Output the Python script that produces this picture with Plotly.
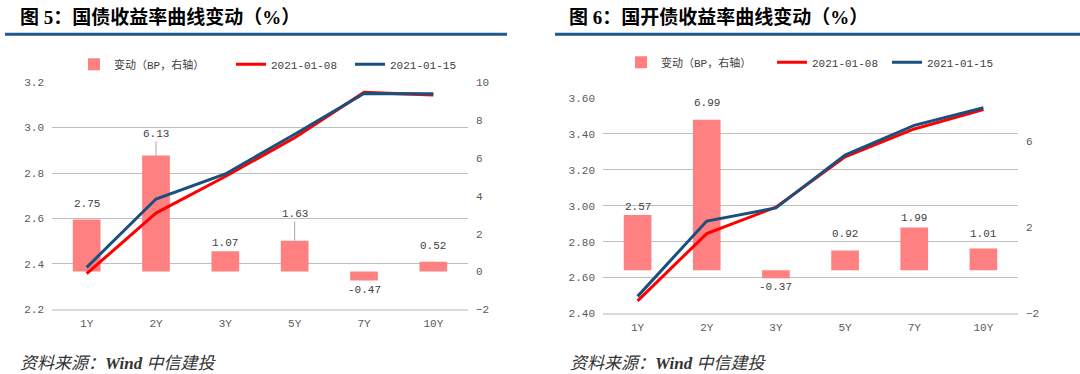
import plotly.graph_objects as go

# ---------------- data ----------------
tenors = ["1Y", "2Y", "3Y", "5Y", "7Y", "10Y"]

# Figure 5: treasury yield curve (%), change in bp
gov_0108 = [2.357, 2.624, 2.785, 2.955, 3.155, 3.144]
gov_0115 = [2.385, 2.686, 2.796, 2.971, 3.150, 3.149]
gov_chg = [2.75, 6.13, 1.07, 1.63, -0.47, 0.52]

# Figure 6: CDB yield curve (%), change in bp
cdb_0108 = [2.470, 2.845, 2.992, 3.273, 3.428, 3.536]
cdb_0115 = [2.495, 2.915, 2.988, 3.282, 3.448, 3.546]
cdb_chg = [2.57, 6.99, -0.37, 0.92, 1.99, 1.01]

series_names = ["变动（BP，右轴）", "2021-01-08", "2021-01-15"]
titles = ["图 5：国债收益率曲线变动（%）", "图 6：国开债收益率曲线变动（%）"]
source_text = "资料来源：<b>Wind</b> 中信建投"

# ---------------- style ----------------
W, H = 1080, 374
SY, OY = 0.971, 2.6          # vertical mapping of the captured page
BAR = "#FF8080"
RED = "#FF0000"
BLUE = "#1B4F7E"
RULE = "#1F5A8C"
TICK = dict(family="Liberation Mono, Noto Sans CJK SC", size=11, color="#595959")
LABEL = dict(family="Liberation Mono, Noto Sans CJK SC", size=11, color="#404040")
LEG = dict(family="Liberation Mono, Noto Sans CJK SC", size=11, color="#404040")

# label offsets (px above bar end; negative = below) and leader-line flags
lift_5 = [15, 21, 8, 26, -9, 15]
leader_5 = [False, True, False, True, False, False]
lift_6 = [8, 16, -8, 16, 9, 14]
leader_6 = [False, False, False, False, False, False]
# legend entry text widths (px) for [bar, line1, line2]
entry_w_5 = [112, 74, 74]
entry_w_6 = [106, 70, 70]


def px(x):
    return x / W


def py(y):
    return 1 - ((y - OY) / SY) / H


left_xd = [px(52), px(468)]
left_yd = [py(308), py(80)]
right_xd = [px(603), px(1018)]
right_yd = [py(312), py(96)]

fig = go.Figure()

# ---- left chart ----
fig.add_trace(go.Bar(x=tenors, y=gov_chg, name=series_names[0], marker=dict(color=BAR, line=dict(width=0)),
                     xaxis="x", yaxis="y", legend="legend", legendwidth=entry_w_5[0]))
fig.add_trace(go.Scatter(x=tenors, y=gov_0108, name=series_names[1], mode="lines",
                         line=dict(color=RED, width=3), xaxis="x", yaxis="y2", legend="legend",
                         legendwidth=entry_w_5[1]))
fig.add_trace(go.Scatter(x=tenors, y=gov_0115, name=series_names[2], mode="lines",
                         line=dict(color=BLUE, width=3), xaxis="x", yaxis="y2", legend="legend",
                         legendwidth=entry_w_5[2]))

# ---- right chart ----
fig.add_trace(go.Bar(x=tenors, y=cdb_chg, name=series_names[0], marker=dict(color=BAR, line=dict(width=0)),
                     xaxis="x2", yaxis="y3", legend="legend2", legendwidth=entry_w_6[0]))
fig.add_trace(go.Scatter(x=tenors, y=cdb_0108, name=series_names[1], mode="lines",
                         line=dict(color=RED, width=3), xaxis="x2", yaxis="y4", legend="legend2",
                         legendwidth=entry_w_6[1]))
fig.add_trace(go.Scatter(x=tenors, y=cdb_0115, name=series_names[2], mode="lines",
                         line=dict(color=BLUE, width=3), xaxis="x2", yaxis="y4", legend="legend2",
                         legendwidth=entry_w_6[2]))

annotations = []
for xr, yr, vals, lifts, leads in (("x", "y", gov_chg, lift_5, leader_5), ("x2", "y3", cdb_chg, lift_6, leader_6)):
    for t, v, lf, ld in zip(tenors, vals, lifts, leads):
        annotations.append(dict(
            x=t, y=v, xref=xr, yref=yr, text=f"{v:.2f}", showarrow=True, ax=0, ay=-lf / SY,
            arrowhead=0, arrowwidth=1, standoff=0, startstandoff=0,
            arrowcolor="#A6A6A6" if ld else "rgba(0,0,0,0)", font=LABEL))

for i, (tx, sx) in enumerate(((18, 18), (567, 568))):
    annotations.append(dict(x=px(tx), y=py(15), xref="paper", yref="paper", xanchor="left", yanchor="middle",
                            text=f"<b>{titles[i]}</b>", showarrow=False,
                            font=dict(family="Liberation Serif, Noto Sans CJK SC", size=19, color="#000000")))
    annotations.append(dict(x=px(sx), y=py(362), xref="paper", yref="paper", xanchor="left", yanchor="middle",
                            text=f"<i>{source_text}</i>", showarrow=False,
                            font=dict(family="Liberation Serif, Noto Sans CJK SC", size=17, color="#333333")))

shapes = [
    dict(type="line", xref="paper", yref="paper", x0=px(5), x1=px(507), y0=py(32), y1=py(32),
         line=dict(color=RULE, width=3)),
    dict(type="line", xref="paper", yref="paper", x0=px(555), x1=1, y0=py(32), y1=py(32),
         line=dict(color=RULE, width=3)),
]

xcommon = dict(type="category", showgrid=False, showline=True, linecolor="#D9D9D9", linewidth=1.5,
               ticks="", tickfont=TICK, ticklabelstandoff=3, zeroline=False, fixedrange=True)
ygrid = dict(showgrid=True, gridcolor="#BFBFBF", gridwidth=1, zeroline=False, showline=False,
             ticks="", tickfont=TICK, ticklabelstandoff=7, fixedrange=True)
ybar = dict(showgrid=False, zeroline=False, showline=False, ticks="", tickfont=TICK, ticklabelstandoff=7,
            fixedrange=True)

fig.update_layout(
    width=W, height=H, margin=dict(l=0, r=0, t=0, b=0),
    paper_bgcolor="white", plot_bgcolor="white",
    bargap=0.6,
    xaxis=dict(domain=left_xd, anchor="y", **xcommon),
    yaxis=dict(domain=left_yd, anchor="x", side="right", range=[-2, 10], tick0=-2, dtick=2, **ybar),
    yaxis2=dict(overlaying="y", anchor="x", side="left", range=[2.2, 3.2], tick0=2.2, dtick=0.2,
                tickformat=".1f", **ygrid),
    xaxis2=dict(domain=right_xd, anchor="y3", **xcommon),
    yaxis3=dict(domain=right_yd, anchor="x2", side="right", range=[-2, 8], tick0=-2, dtick=4, **ybar),
    yaxis4=dict(overlaying="y3", anchor="x2", side="left", range=[2.4, 3.6], tick0=2.4, dtick=0.2,
                tickformat=".2f", **ygrid),
    legend=dict(orientation="h", x=px(74), xanchor="left", y=py(62), yanchor="middle",
                font=LEG, bgcolor="rgba(0,0,0,0)", traceorder="normal"),
    legend2=dict(orientation="h", x=px(621), xanchor="left", y=py(60), yanchor="middle",
                 font=LEG, bgcolor="rgba(0,0,0,0)", traceorder="normal"),
    annotations=annotations,
    shapes=shapes,
    showlegend=True,
)

page_fix = (
    "document.documentElement.style.margin='0';document.documentElement.style.overflow='hidden';"
    "document.body.style.margin='0';document.body.style.overflow='hidden';"
)
fig.write_html("out.html", config={"displayModeBar": False}, post_script=page_fix)
